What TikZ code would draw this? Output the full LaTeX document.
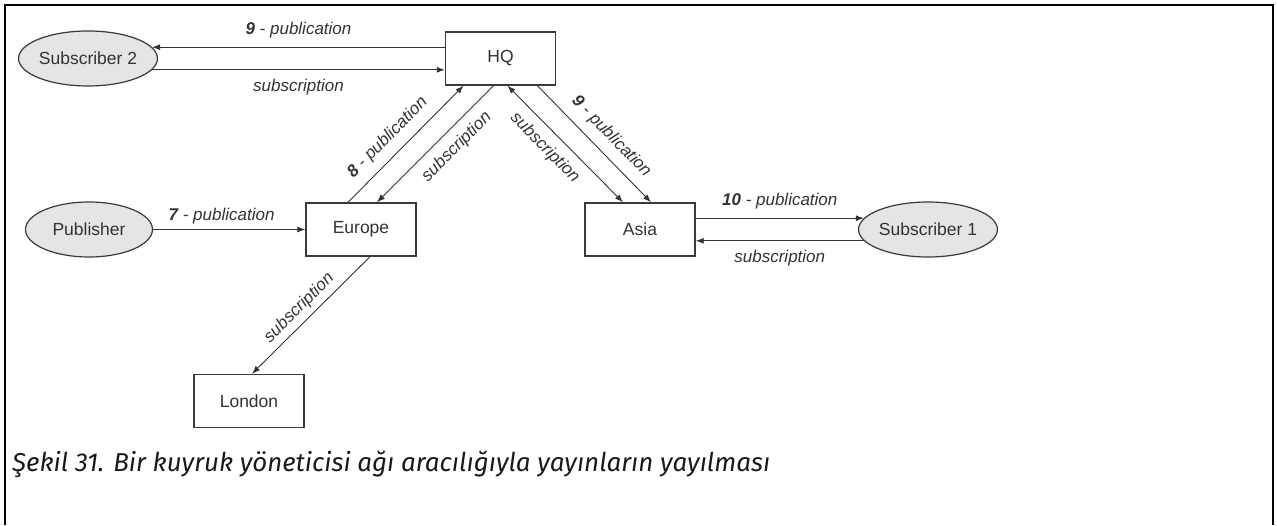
\documentclass[tikz,border=0pt]{standalone}
\usepackage{fontspec}
\setmainfont{Liberation Sans}
\newfontfamily\capfont{Fira Sans}
\usetikzlibrary{arrows.meta,shapes.geometric,calc}
\definecolor{boxc}{HTML}{3A3A3A}
\definecolor{linec}{HTML}{333333}
\definecolor{ovalfill}{HTML}{E5E5E5}
\definecolor{txt}{HTML}{333333}
\begin{document}
\begin{tikzpicture}[x=1pt,y=1pt,
  >={Latex[length=8pt,width=6pt]},
  box/.style={draw=boxc, line width=1.4pt, minimum width=110pt, minimum height=53pt, inner sep=0pt, text=txt, font=\fontsize{17.5}{20}\selectfont},
  oval/.style={ellipse, draw=boxc, line width=1.2pt, fill=ovalfill, minimum width=127pt, minimum height=55pt, inner sep=0pt, text=txt, font=\fontsize{17.5}{20}\selectfont},
  conn/.style={draw=linec, line width=0.9pt},
  lab/.style={text=txt, inner sep=2pt, font=\fontsize{17}{20}\selectfont\itshape}
]
\useasboundingbox (0,0) rectangle (1277,525);
\draw[line width=2.6pt, black] (5,0) -- (5,520) -- (1273,520) -- (1273,0);

\node[box] (HQ) at (500.5,466.5) {HQ};
\node[oval] (Sub2) at (88,466.5) {Subscriber 2};
\node[box] (Europe) at (361,295.5) {Europe};
\node[box] (Asia) at (640,295.5) {Asia};
\node[oval] (Pub) at (89,295.5) {Publisher};
\node[oval] (Sub1) at (928,295.5) {Subscriber 1};
\node[box] (London) at (249,124) {London};

% Sub2 <-> HQ
\draw[conn,<-] (Sub2.10) -- node[lab, above=7pt] {\textbf{9} - publication} (Sub2.10 -| HQ.west);
\draw[conn,->] (Sub2.-10) -- node[lab, below=7pt] {subscription} (Sub2.-10 -| HQ.west);

% Publisher -> Europe
\draw[conn,->] (Pub) -- node[lab, above=3pt, pos=.45] {\textbf{7} - publication} (Europe);

% Asia <-> Sub1
\draw[conn,->] (Sub1.170 -| Asia.east) -- node[lab, above=7pt] {\textbf{10} - publication} (Sub1.170);
\draw[conn,<-] (Sub1.190 -| Asia.east) -- node[lab, below=7pt] {subscription} (Sub1.190);

% Europe <-> HQ
\draw[conn,->] ([xshift=-13pt]Europe.north) -- node[lab, sloped, above=7pt, pos=.45] {\textbf{8} - publication} ([xshift=-37pt]HQ.south);
\draw[conn,<-] ([xshift=16pt]Europe.north) -- node[lab, sloped, below=7pt, pos=.58] {subscription} ([xshift=-7pt]HQ.south);

% HQ <-> Asia
\draw[conn,<->] ([xshift=7pt]HQ.south) -- node[lab, sloped, below=7pt, pos=.43] {subscription} ([xshift=-17pt]Asia.north);
\draw[conn,->] ([xshift=37pt]HQ.south) -- node[lab, sloped, above=7pt, pos=.54] {\textbf{9} - publication} ([xshift=11pt]Asia.north);

% Europe -> London
\draw[conn,<-] ([xshift=3pt]London.north) -- node[lab, sloped, above=3pt, pos=.48] {subscription} ([xshift=9pt]Europe.south);

\node[anchor=base west, inner sep=0pt, text=black!90] (cap) at (12,53) {\resizebox{758pt}{!}{\capfont\itshape\fontsize{21}{25}\selectfont Şekil 31. Bir kuyruk yöneticisi ağı aracılığıyla yayınların yayılması}};
\end{tikzpicture}
\end{document}
